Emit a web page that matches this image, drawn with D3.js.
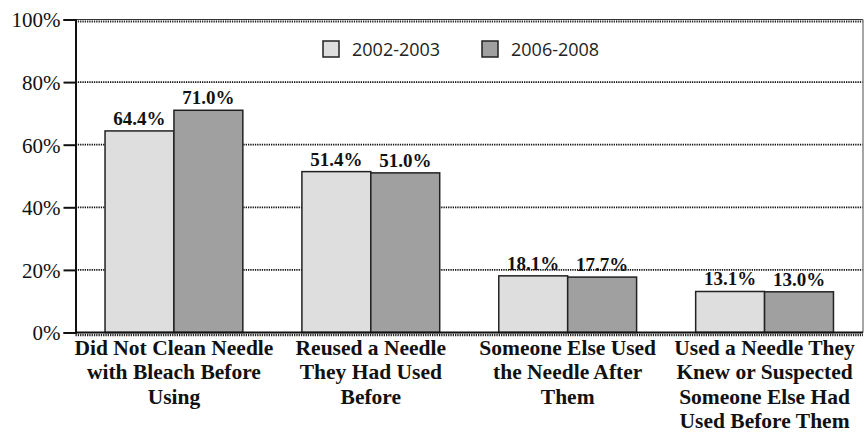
<!DOCTYPE html>
<html>
<head>
<meta charset="utf-8">
<script src="https://cdn.jsdelivr.net/npm/d3@7"></script>
<style>
  body { margin: 0; background: #fff; }
  .tick-label { font-family: "Liberation Serif", "Times New Roman", serif; font-size: 21px; fill: #111; }
  .cat-label { font-family: "Liberation Serif", "Times New Roman", serif; font-size: 21.5px; font-weight: bold; fill: #111; }
  .val-label { font-family: "Liberation Serif", "Times New Roman", serif; font-size: 19px; font-weight: bold; fill: #111; }
  .legend-text { font-family: "Open Sans", sans-serif; font-size: 18px; fill: #222; }
</style>
</head>
<body>
<div class="chart"></div>
<script>
/// Data
var categories = [
    ["Did Not Clean Needle", "with Bleach Before", "Using"],
    ["Reused a Needle", "They Had Used", "Before"],
    ["Someone Else Used", "the Needle After", "Them"],
    ["Used a Needle They", "Knew or Suspected", "Someone Else Had", "Used Before Them"]
];
var seriesNames = ["2002-2003", "2006-2008"];
var values2002 = [64.4, 51.4, 18.1, 13.1];
var values2006 = [71.0, 51.0, 17.7, 13.0];
var yTicks = [0, 20, 40, 60, 80, 100];

var colors = ["#dedede", "#a0a0a0"];

/// SVG dimensions
var svgWidth = 865;
var svgHeight = 439;
var margin = { top: 19.5, right: 2, bottom: 106.5, left: 75.5 };
var width = svgWidth - margin.left - margin.right;
var height = svgHeight - margin.top - margin.bottom;

var svg = d3.select(".chart")
    .append("svg")
    .attr("width", svgWidth)
    .attr("height", svgHeight);

var chartGroup = svg.append("g")
    .attr("transform", `translate(${margin.left}, ${margin.top})`);

/// Scales
var groupKeys = categories.map((c, i) => i);
var x0 = d3.scaleBand()
    .domain(groupKeys)
    .range([0, width])
    .paddingInner(0.3)
    .paddingOuter(0.15);

var x1 = d3.scaleBand()
    .domain([0, 1])
    .range([0, x0.bandwidth()]);

var y = d3.scaleLinear()
    .domain([0, 100])
    .range([height, 0]);

/// Dotted gridlines
chartGroup.selectAll(".grid")
    .data(yTicks.filter(t => t > 0 && t < 100))
    .enter()
    .append("line")
    .attr("x1", 0)
    .attr("x2", width)
    .attr("y1", d => y(d))
    .attr("y2", d => y(d))
    .attr("stroke", "#111")
    .attr("stroke-width", 1.8)
    .attr("stroke-dasharray", "1.3,1");

/// Top border with dotted underline
chartGroup.append("line")
    .attr("x1", 0).attr("x2", width)
    .attr("y1", y(100)).attr("y2", y(100))
    .attr("stroke", "#333").attr("stroke-width", 1);
chartGroup.append("line")
    .attr("x1", 0).attr("x2", width)
    .attr("y1", y(100) + 2).attr("y2", y(100) + 2)
    .attr("stroke", "#222").attr("stroke-width", 2)
    .attr("stroke-dasharray", "1.3,1");

/// Right border
chartGroup.append("line")
    .attr("x1", width).attr("x2", width)
    .attr("y1", y(100)).attr("y2", y(0))
    .attr("stroke", "#888").attr("stroke-width", 1.5);

/// Bars
var rows = values2002.map((v, i) => ({ i: i, vals: [v, values2006[i]] }));

var groups = chartGroup.selectAll(".group")
    .data(rows)
    .enter()
    .append("g")
    .attr("transform", d => `translate(${x0(d.i)}, 0)`);

groups.selectAll("rect")
    .data(d => d.vals.map((v, k) => ({ k: k, v: v })))
    .enter()
    .append("rect")
    .attr("x", d => x1(d.k))
    .attr("y", d => y(d.v))
    .attr("width", x1.bandwidth())
    .attr("height", d => y(0) - y(d.v))
    .attr("fill", d => colors[d.k])
    .attr("stroke", "#222")
    .attr("stroke-width", 1.5);

groups.selectAll(".val-label")
    .data(d => d.vals.map((v, k) => ({ k: k, v: v })))
    .enter()
    .append("text")
    .attr("class", "val-label")
    .attr("x", d => x1(d.k) + x1.bandwidth() / 2)
    .attr("y", d => y(d.v) - 6)
    .attr("text-anchor", "middle")
    .text(d => d.v.toFixed(1) + "%");

/// Y axis
var leftAxis = d3.axisLeft(y)
    .tickValues(yTicks)
    .tickSize(12)
    .tickPadding(3)
    .tickFormat(d => d + "%");

var yAxis = chartGroup.append("g").call(leftAxis);
yAxis.select(".domain").attr("stroke", "#111").attr("stroke-width", 2);
yAxis.selectAll(".tick line").attr("stroke", "#111").attr("stroke-width", 2);
yAxis.selectAll(".tick text")
    .attr("class", "tick-label")
    .attr("font-family", null)
    .attr("font-size", null)
    .attr("fill", null)
    .attr("dy", "0.35em");

/// X axis line with dotted minor marks
chartGroup.append("line")
    .attr("x1", 0).attr("x2", width)
    .attr("y1", y(0)).attr("y2", y(0))
    .attr("stroke", "#111").attr("stroke-width", 2);
chartGroup.append("line")
    .attr("x1", 0).attr("x2", width)
    .attr("y1", y(0) + 2.5).attr("y2", y(0) + 2.5)
    .attr("stroke", "#222").attr("stroke-width", 2.5)
    .attr("stroke-dasharray", "1.3,1");

/// Category labels
var catLabels = chartGroup.selectAll(".cat-label")
    .data(categories)
    .enter()
    .append("text")
    .attr("class", "cat-label")
    .attr("text-anchor", "middle")
    .attr("transform", (d, i) => `translate(${x0(i) + x0.bandwidth() / 2}, ${height + 22})`);

catLabels.selectAll("tspan")
    .data(d => d)
    .enter()
    .append("tspan")
    .attr("x", 0)
    .attr("y", (d, j) => j * 24.5)
    .text(d => d);

/// Legend
var legendX = [323, 482];
var legend = svg.selectAll(".legend")
    .data(seriesNames)
    .enter()
    .append("g")
    .attr("transform", (d, i) => `translate(${legendX[i]}, 41)`);

legend.append("rect")
    .attr("width", 16)
    .attr("height", 16)
    .attr("fill", (d, i) => colors[i])
    .attr("stroke", "#222")
    .attr("stroke-width", 1.5);

legend.append("text")
    .attr("class", "legend-text")
    .attr("x", 29)
    .attr("y", 15)
    .text(d => d);
</script>
</body>
</html>
